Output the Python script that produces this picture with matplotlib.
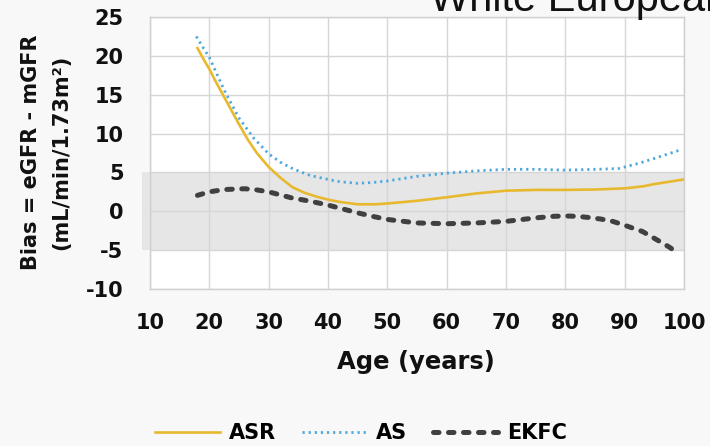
import numpy as np
import matplotlib.pyplot as plt
from matplotlib.lines import Line2D

# bias curves (age in years, bias in mL/min/1.73m2)
asr_age = [18, 19, 20, 21, 22.5, 24, 25, 26.5, 28, 30, 32, 34, 36, 38, 40, 42, 45, 48, 50,
           55, 60, 65, 70, 75, 80, 85, 90, 93, 95, 97.5, 100]
asr_bias = [21.0, 19.6, 18.3, 16.8, 14.7, 12.6, 11.2, 9.2, 7.5, 5.7, 4.3, 3.1, 2.4, 1.9, 1.5, 1.2, 0.9, 0.9, 1.0,
            1.35, 1.8, 2.3, 2.65, 2.75, 2.75, 2.8, 2.95, 3.2, 3.5, 3.8, 4.1]

as_age = [17.8, 19, 20, 22.5, 25, 27.5, 30, 32, 34, 37, 40, 42, 45, 47.5, 50, 55, 60, 65,
          70, 75, 80, 85, 89, 90, 92.5, 95, 97, 99.4]
as_bias = [22.5, 21.0, 19.8, 15.6, 12.0, 9.4, 7.4, 6.3, 5.5, 4.6, 4.1, 3.8, 3.6, 3.7, 3.9, 4.5, 4.9, 5.2,
           5.4, 5.4, 5.3, 5.4, 5.5, 5.7, 6.2, 6.8, 7.3, 7.9]

ekfc_age = [18, 20, 22.5, 26, 28, 30, 32, 34, 37, 40, 42.5, 45, 47.5, 50, 55, 60, 65, 70, 75,
            78, 80, 82, 84, 86, 88, 90, 93, 95.5, 97.5, 99]
ekfc_bias = [2.05, 2.5, 2.8, 2.9, 2.75, 2.5, 2.1, 1.7, 1.3, 0.8, 0.3, -0.2, -0.65, -1.05, -1.5, -1.6, -1.5, -1.3, -0.85,
             -0.65, -0.6, -0.65, -0.8, -1.0, -1.3, -1.8, -2.6, -3.7, -4.6, -5.4]

# acceptable bias band
band = (-5, 5)

x_ticks = list(range(10, 101, 10))
y_ticks = list(range(-10, 26, 5))

ASR_COLOR = "#e8b92f"
AS_COLOR = "#4fa9dc"
EKFC_COLOR = "#404040"
GRID_COLOR = "#d6d6d6"

AS_STYLE = (0, (0.8, 1.4))
EKFC_STYLE = (0, (1.1, 1.9))

plt.rcParams['font.family'] = ['DejaVu Sans']
plt.rcParams['axes.unicode_minus'] = False

fig = plt.figure(figsize=(7.1, 4.46), dpi=100, facecolor="#f8f8f8")
ax = fig.add_axes([150 / 710, 1 - 289 / 446, 534 / 710, 272 / 446])
ax.set_facecolor("white")

# grey band sticks out a little to the left of the plot area
ax.axhspan(band[0], band[1], xmin=-0.015, xmax=1, color="#e6e6e6", zorder=0.3, clip_on=False, lw=0)

ax.plot(asr_age, asr_bias, color=ASR_COLOR, lw=1.9, zorder=3)
ax.plot(as_age, as_bias, color=AS_COLOR, lw=2.0, linestyle=AS_STYLE, zorder=3)
ax.plot(ekfc_age, ekfc_bias, color=EKFC_COLOR, lw=3.6, linestyle=EKFC_STYLE,
        dash_capstyle="round", zorder=3)

ax.set_xlim(10, 100)
ax.set_ylim(-10, 25)
ax.set_xticks(x_ticks)
ax.set_yticks(y_ticks)
ax.grid(True, color=GRID_COLOR, lw=1)
ax.set_axisbelow(True)
for s in ax.spines.values():
    s.set_color("#cfcfcf")
    s.set_linewidth(1)
ax.tick_params(length=0, labelsize=15)
ax.tick_params(axis="y", pad=19)
ax.tick_params(axis="x", pad=17)
for lab in ax.get_xticklabels() + ax.get_yticklabels():
    lab.set_fontweight("bold")
    lab.set_color("#111111")

fig.text(416 / 710, 1 - 362 / 446, "Age (years)", ha="center", va="center",
         fontsize=17.5, fontweight="bold", color="#111111")

# two-line y label
fig.text(31 / 710, 1 - 152 / 446, "Bias = eGFR - mGFR", rotation=90, ha="center", va="center",
         fontsize=15, fontweight="bold", color="#111111")
fig.text(61 / 710, 1 - 152 / 446, "(mL/min/1.73m\u00b2)", rotation=90, ha="center", va="center",
         fontsize=15, fontweight="bold", color="#111111")

# title is cut off at the top of the slide
fig.text(430 / 710, 1 - 11 / 446, "White European", fontsize=30, family="Liberation Sans",
         ha="left", va="baseline", color="#111111")

handles = [
    Line2D([], [], color=ASR_COLOR, lw=1.9),
    Line2D([], [], color=AS_COLOR, lw=2.0, linestyle=AS_STYLE),
    Line2D([], [], color=EKFC_COLOR, lw=3.6, linestyle=EKFC_STYLE, dash_capstyle="round"),
]
fig.legend(handles, ["ASR", "AS", "EKFC"], loc="center", bbox_to_anchor=(361 / 710, 1 - 433 / 446),
           ncol=3, frameon=False, handlelength=3.1, handletextpad=0.45, columnspacing=1.25,
           prop={"weight": "bold", "size": 15})

fig.savefig("out.png", dpi=100, facecolor=fig.get_facecolor())
